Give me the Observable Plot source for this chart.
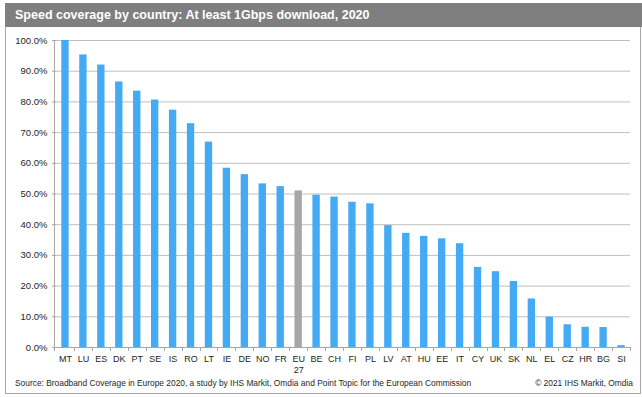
<!DOCTYPE html>
<html><head><meta charset="utf-8">
<script src="https://cdn.jsdelivr.net/npm/d3@7"></script>
<script src="https://cdn.jsdelivr.net/npm/@observablehq/plot@0.6"></script>
<style>
body{margin:0;background:#fff;}
#wrap{position:relative;width:642px;height:397px;overflow:hidden;font-family:"Liberation Sans",Arial,sans-serif;background:#fff;}
#frame{position:absolute;left:5px;top:3px;width:636px;height:391px;border:1px solid #a6a6a6;box-sizing:border-box;}
#title{position:absolute;left:5px;top:3px;width:637px;height:24px;background:#7f7f7f;color:#fff;font-weight:bold;font-size:12.5px;line-height:24px;white-space:nowrap;}
#title span{position:absolute;left:10px;top:0;}
#chart{position:absolute;left:0;top:28px;}
.foot{position:absolute;top:378px;font-size:8.4px;color:#262626;white-space:nowrap;line-height:11px;}
</style></head>
<body>
<div id="wrap">
  <div id="frame"></div>
  <div id="title"><span>Speed coverage by country: At least 1Gbps download, 2020</span></div>
  <div id="chart"></div>
  <div class="foot" style="left:15px">Source: Broadband Coverage in Europe 2020, a study by IHS Markit, Omdia and Point Topic for the European Commission</div>
  <div class="foot" style="right:9px">© 2021 IHS Markit, Omdia</div>
</div>
<script>
const countries = ["MT","LU","ES","DK","PT","SE","IS","RO","LT","IE","DE","NO","FR","EU\n27","BE","CH","FI","PL","LV","AT","HU","EE","IT","CY","UK","SK","NL","EL","CZ","HR","BG","SI"];
const coverage = [100,95.3,92,86.5,83.5,80.6,77.3,72.9,66.9,58.4,56.3,53.3,52.4,51.0,49.6,49.0,47.3,46.8,39.7,37.2,36.2,35.4,33.8,26.1,24.7,21.5,15.8,9.9,7.4,6.6,6.5,0.6];
const highlight = "EU\n27";
const yTicks = [0,10,20,30,40,50,60,70,80,90,100];

const data = countries.map((c, i) => ({country: c, value: coverage[i], eu: c === highlight}));

function decor(index, scales, values, dims) {
  const x = scales.x, y = scales.y;
  const g = d3.create("svg:g").attr("stroke", "#a6a6a6").attr("stroke-width", 1);
  const bw = x.bandwidth ? x.bandwidth() : 0;
  const step = x.step ? x.step() : bw;
  const left = dims.marginLeft - 1.5;
  g.append("line").attr("x1", left).attr("x2", left).attr("y1", y(100)).attr("y2", y(0) + 4);
  const centers = countries.map(c => x(c) + bw / 2);
  const bounds = centers.map(cx => cx + step / 2);
  for (const b of bounds) {
    g.append("line").attr("x1", Math.round(b) + 0.5).attr("x2", Math.round(b) + 0.5).attr("y1", y(0)).attr("y2", y(0) + 4);
  }
  return g.node();
}

const chart = Plot.plot({
  width: 642,
  height: 357,
  marginTop: 12,
  marginBottom: 38,
  marginLeft: 56,
  marginRight: 12,
  style: {fontFamily: "'Liberation Sans', Arial, sans-serif", color: "#262626", background: "transparent"},
  x: {domain: countries, paddingInner: 0.59, paddingOuter: 0.295, round: false, label: null},
  y: {domain: [0, 100], label: null},
  color: {domain: [false, true], range: ["#45aaf4", "#a6a6a6"]},
  marks: [
    Plot.ruleY(yTicks, {stroke: "#bfbfbf", strokeWidth: 1}),
    Plot.barY(data, {x: "country", y: "value", fill: "eu"}),
    Plot.ruleY([0], {stroke: "#a6a6a6"}),
    decor,
    Plot.axisY({ticks: yTicks, tickSize: 4, tickPadding: 5, stroke: "#a6a6a6", fill: "#262626", tickFormat: d => d.toFixed(1) + "%", fontSize: 9.5, label: null}),
    Plot.axisX({tickSize: 0, tickPadding: 7, fontSize: 9, lineHeight: 1.2, fill: "#262626", label: null})
  ]
});
document.getElementById("chart").appendChild(chart);
</script>
</body></html>
